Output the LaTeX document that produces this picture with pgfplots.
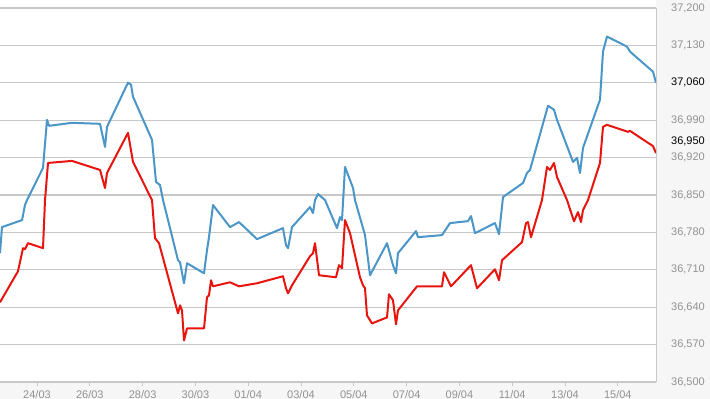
\documentclass[border=0pt]{standalone}
\usepackage{pgfplots}
\pgfplotsset{compat=1.18}
\usepackage{fontspec}
\setmainfont{Liberation Sans}
\definecolor{bluel}{HTML}{4A96C8}
\definecolor{redl}{HTML}{E8140E}
\definecolor{panel}{HTML}{F6F6F6}
\definecolor{gridc}{HTML}{C8C8C8}
\definecolor{lab}{HTML}{929292}
\begin{document}
\begin{tikzpicture}
\path[use as bounding box] (0,-17bp) rectangle (710bp,382bp);
\fill[white] (0,-17bp) rectangle (710bp,382bp);
\fill[panel] (656bp,-17bp) rectangle (710bp,382bp);
\fill[panel] (0,-17bp) rectangle (656bp,0);
\begin{axis}[
  at={(0,0)}, anchor=south west,
  width=656bp, height=374bp, scale only axis,
  xmin=-1.402, xmax=23.447, ymin=36500, ymax=37200,
  axis x line*=bottom, axis y line*=right,
  axis line style={draw=gridc, line width=1bp},
  scaled y ticks=false,
  ytick={36500,36570,36640,36710,36780,36850,36920,36990,37060,37130,37200},
  yticklabels={36{,}500,36{,}570,36{,}640,36{,}710,36{,}780,36{,}850,36{,}920,36{,}990,,37{,}130,37{,}200},
  ymajorgrids, grid style={draw=gridc, line width=1.2bp},
  ytick style={draw=none},
  y tick label style={anchor=west, inner sep=0pt, xshift=11bp, text=lab, font=\fontsize{11bp}{13bp}\selectfont},
  extra y ticks={37060,36950},
  extra y tick labels={37{,}060,36{,}950},
  extra y tick style={grid=none, y tick label style={text=black}},
  xtick={0,2,4,6,8,10,12,14,16,18,20,22},
  xticklabels={24/03,26/03,28/03,30/03,01/04,03/04,05/04,07/04,09/04,11/04,13/04,15/04},
  tick align=outside, major tick length=4bp,
  xtick style={draw=gridc, line width=1bp},
  x tick label style={anchor=north, inner sep=0pt, yshift=-4bp, text=lab, font=\fontsize{11bp}{13bp}\selectfont},
]
\addplot[bluel, line width=2bp, line join=round] coordinates {
(-1.402,36741.1) (-1.326,36789.9) (-0.568,36803.0) (-0.455,36831.2) (-0.379,36840.5)
(0.227,36900.6) (0.379,36990.7) (0.455,36979.5) (1.326,36985.1) (2.386,36983.2)
(2.576,36940.0) (2.652,36977.6) (3.447,37060.2) (3.561,37056.4) (3.636,37033.9)
(4.356,36953.2) (4.508,36874.3) (4.659,36868.7) (4.773,36840.5) (5.341,36727.9)
(5.417,36724.2) (5.568,36684.8) (5.682,36722.3) (6.326,36703.5) (6.439,36746.7)
(6.515,36771.1) (6.667,36831.2) (7.311,36789.9) (7.652,36799.3) (8.333,36767.4)
(9.318,36788.0) (9.432,36756.1) (9.508,36750.5) (9.659,36789.9) (10.341,36827.4)
(10.455,36816.2) (10.530,36840.5) (10.644,36851.8) (10.909,36840.5) (11.364,36788.0)
(11.477,36808.6) (11.553,36803.0) (11.667,36902.5) (11.970,36863.1) (12.045,36840.5)
(12.424,36774.9) (12.614,36699.8) (13.258,36759.8) (13.485,36718.6) (13.598,36703.5)
(13.674,36741.1) (14.356,36782.4) (14.432,36771.1) (15.341,36774.9) (15.644,36797.4)
(16.326,36801.1) (16.439,36810.5) (16.591,36778.6) (17.348,36797.4) (17.500,36776.7)
(17.652,36846.2) (18.409,36872.5) (18.561,36891.2) (18.674,36896.9) (19.356,37017.0)
(19.583,37009.5) (19.697,36990.7) (20.303,36911.9) (20.455,36919.4) (20.568,36891.2)
(20.682,36938.2) (21.326,37028.3) (21.439,37118.4) (21.591,37146.5) (22.348,37127.7)
(22.462,37118.4) (23.333,37080.8) (23.447,37060.0)
};
\addplot[redl, line width=2bp, line join=round] coordinates {
(-1.402,36649.1) (-0.720,36707.3) (-0.530,36750.5) (-0.455,36748.6) (-0.341,36759.8)
(0.227,36750.5) (0.303,36840.5) (0.417,36910.0) (1.326,36913.8) (2.386,36896.9)
(2.576,36863.1) (2.652,36891.2) (3.447,36966.3) (3.636,36911.9) (4.356,36840.5)
(4.470,36769.2) (4.621,36759.8) (5.341,36628.5) (5.417,36643.5) (5.492,36634.1)
(5.568,36577.8) (5.682,36600.3) (6.326,36600.3) (6.439,36658.5) (6.515,36662.2)
(6.591,36690.4) (6.667,36679.1) (7.311,36686.6) (7.652,36679.1) (8.333,36684.8)
(9.318,36697.9) (9.432,36675.4) (9.508,36666.0) (9.659,36681.0) (10.341,36735.4)
(10.455,36741.1) (10.530,36759.8) (10.682,36699.8) (11.326,36696.0) (11.439,36718.6)
(11.553,36712.9) (11.667,36803.0) (11.856,36778.6) (12.235,36696.0) (12.348,36681.0)
(12.424,36675.4) (12.500,36624.7) (12.689,36609.7) (13.258,36620.9) (13.333,36664.1)
(13.485,36652.9) (13.523,36637.8) (13.598,36607.8) (13.674,36634.1) (14.394,36679.1)
(15.341,36679.1) (15.417,36705.4) (15.682,36679.1) (16.439,36718.6) (16.667,36675.4)
(17.348,36711.0) (17.500,36690.4) (17.614,36727.9) (18.371,36761.7) (18.523,36797.4)
(18.598,36799.3) (18.712,36771.1) (19.129,36840.5) (19.318,36902.5) (19.432,36896.9)
(19.583,36910.0) (19.697,36883.7) (20.076,36840.5) (20.341,36800.8) (20.492,36818.0)
(20.606,36799.3) (20.682,36821.8) (20.871,36840.5) (21.326,36910.0) (21.439,36977.6)
(21.591,36981.3) (22.386,36968.2) (22.462,36970.1) (23.333,36941.5) (23.447,36928.4)
};
\end{axis}
\end{tikzpicture}
\end{document}
